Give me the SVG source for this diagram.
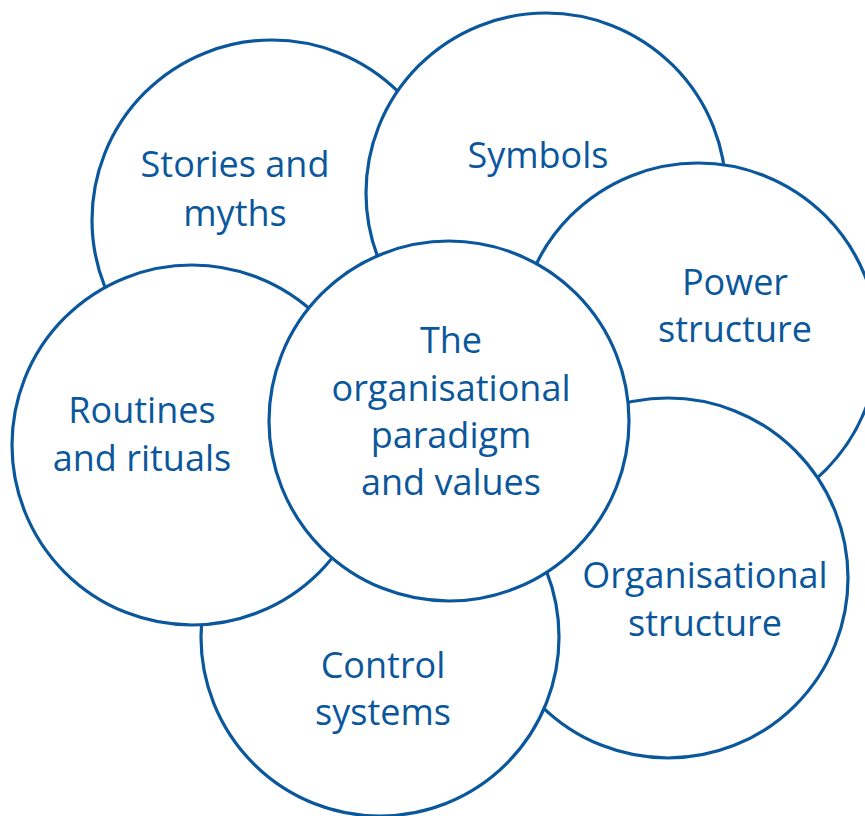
<svg xmlns="http://www.w3.org/2000/svg" width="865" height="816" viewBox="0 0 865 816">
  <style>
    .ring { fill: #ffffff; stroke: #0b579c; stroke-width: 3.2; }
    .label { fill: #0b579c; font-family: "Open Sans", "DejaVu Sans", sans-serif; font-size: 36px; text-anchor: middle; }
  </style>
  <rect width="865" height="816" fill="#ffffff"/>
  <!-- Circles are painted back to front: each one hides the parts of those beneath it -->
  <g id="stories">
    <circle class="ring" cx="272" cy="220" r="180"/>
    <text class="label" x="235" y="177">Stories and</text>
    <text class="label" x="235" y="226">myths</text>
  </g>
  <g id="symbols">
    <circle class="ring" cx="546" cy="193" r="180"/>
    <text class="label" x="538" y="168">Symbols</text>
  </g>
  <g id="power">
    <circle class="ring" cx="698" cy="343" r="180"/>
    <text class="label" x="735" y="295">Power</text>
    <text class="label" x="735" y="342">structure</text>
  </g>
  <g id="organisational-structure">
    <circle class="ring" cx="668" cy="578" r="180"/>
    <text class="label" x="705" y="588">Organisational</text>
    <text class="label" x="705" y="636">structure</text>
  </g>
  <g id="control">
    <circle class="ring" cx="380" cy="637" r="179"/>
    <text class="label" x="383" y="678">Control</text>
    <text class="label" x="383" y="725">systems</text>
  </g>
  <g id="routines">
    <circle class="ring" cx="192" cy="445" r="180"/>
    <text class="label" x="142" y="423">Routines</text>
    <text class="label" x="142" y="471">and rituals</text>
  </g>
  <g id="paradigm">
    <circle class="ring" cx="449" cy="421" r="180"/>
    <text class="label" x="451" y="353">The</text>
    <text class="label" x="451" y="401">organisational</text>
    <text class="label" x="451" y="448">paradigm</text>
    <text class="label" x="451" y="495">and values</text>
  </g>
  <g id="connectors"/>
</svg>
